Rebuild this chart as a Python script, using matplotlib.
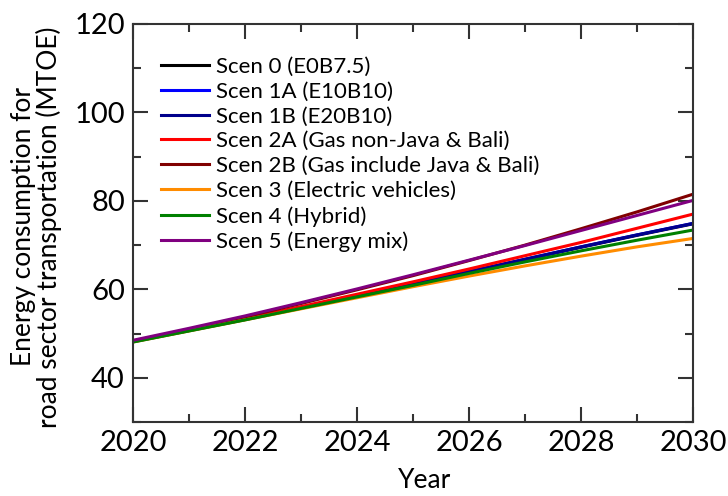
import numpy as np
import matplotlib
matplotlib.use('Agg')
import matplotlib.pyplot as plt
from matplotlib.ticker import MultipleLocator

plt.rcParams['font.family'] = ['Lato', 'DejaVu Sans']

years = [2020, 2021, 2022, 2023, 2024, 2025, 2026, 2027, 2028, 2029, 2030]

scen0  = [48.2, 50.7, 53.2, 55.8, 58.4, 61.1, 63.9, 66.7, 69.5, 72.2, 74.8]
scen1a = [48.2, 50.7, 53.2, 55.8, 58.5, 61.2, 64.0, 66.8, 69.6, 72.3, 74.9]
scen1b = [48.2, 50.7, 53.2, 55.8, 58.5, 61.2, 64.0, 66.8, 69.6, 72.3, 74.9]
scen2a = [48.3, 50.8, 53.4, 56.1, 58.9, 61.7, 64.6, 67.6, 70.6, 73.8, 77.0]
scen2b = [48.3, 51.0, 53.8, 56.8, 59.9, 63.1, 66.5, 70.0, 73.7, 77.5, 81.5]
scen3  = [48.1, 50.6, 53.1, 55.6, 58.1, 60.6, 63.0, 65.3, 67.5, 69.6, 71.5]
scen4  = [48.1, 50.6, 53.1, 55.7, 58.3, 60.9, 63.6, 66.2, 68.7, 71.1, 73.4]
scen5  = [48.5, 51.2, 54.0, 57.0, 60.1, 63.3, 66.6, 69.9, 73.3, 76.7, 80.1]

labels = ['Scen 0 (E0B7.5)', 'Scen 1A (E10B10)', 'Scen 1B (E20B10)',
          'Scen 2A (Gas non-Java & Bali)', 'Scen 2B (Gas include Java & Bali)',
          'Scen 3 (Electric vehicles)', 'Scen 4 (Hybrid)', 'Scen 5 (Energy mix)']
colors = ['black', '#0000ff', '#00008b', '#ff0000', '#800000', '#ff8c00', '#008000', '#800080']
series = [scen0, scen1a, scen1b, scen2a, scen2b, scen3, scen4, scen5]

fig = plt.figure(figsize=(7.28, 4.96), dpi=100)
ax = fig.add_axes([0.183, 0.149, 0.769, 0.803])

for s, c, l in zip(series, colors, labels):
    ax.plot(years, s, color=c, lw=2.2, label=l)

ax.set_xlim(2020, 2030)
ax.set_ylim(30, 120)
ax.xaxis.set_major_locator(MultipleLocator(2))
ax.xaxis.set_minor_locator(MultipleLocator(1))
ax.yaxis.set_minor_locator(MultipleLocator(10))
ax.set_yticks([40, 60, 80, 100, 120])
ax.tick_params(which='both', direction='in', top=True, right=True, color='#333333')
ax.tick_params(which='major', length=11, width=1.5, labelsize=21, pad=6)
ax.tick_params(which='minor', length=6, width=1.5)
for sp in ax.spines.values():
    sp.set_linewidth(1.5)
    sp.set_color('#333333')

ax.set_xlabel('Year', fontsize=19)
ax.xaxis.set_label_coords(0.52, -0.115)
ax.set_ylabel('Energy consumption for\nroad sector transportation (MTOE)', fontsize=19, linespacing=1.0)
ax.yaxis.set_label_coords(-0.127, 0.49)

ax.legend(loc='upper left', frameon=False, fontsize=16, handlelength=2.2,
          handletextpad=0.3, labelspacing=0.22, borderaxespad=0.0,
          bbox_to_anchor=(0.033, 0.94))

fig.savefig('out.png', dpi=100)
